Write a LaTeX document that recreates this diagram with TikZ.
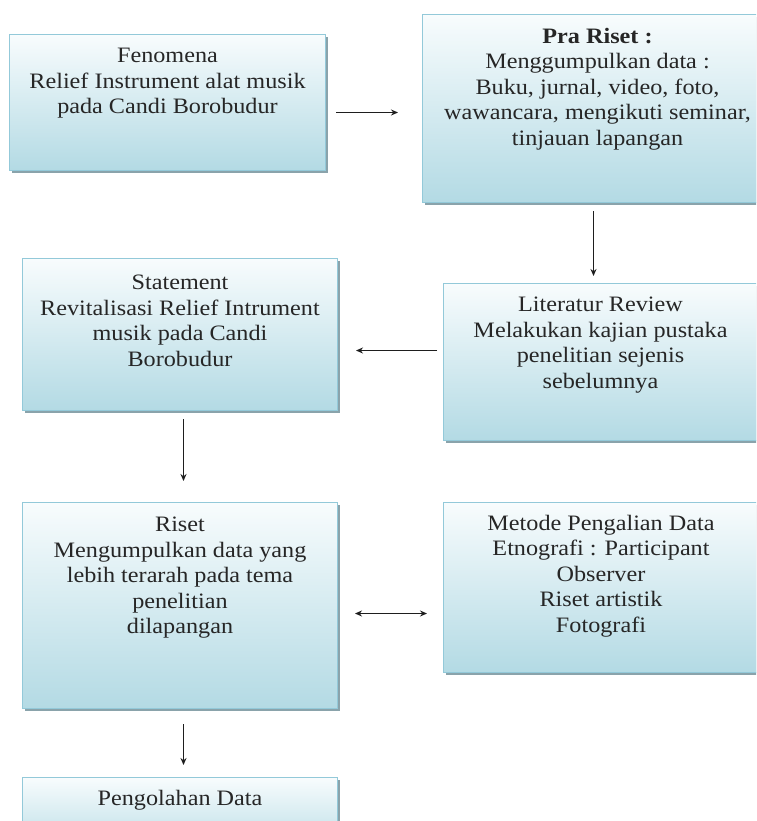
\documentclass[tikz,border=0pt]{standalone}
\usepackage{fontspec}
\setmainfont{Liberation Serif}[FakeStretch=1.1]
\usetikzlibrary{arrows.meta}
\definecolor{boxtop}{HTML}{F8FCFD}
\definecolor{boxbot}{HTML}{B3DAE4}
\definecolor{boxline}{HTML}{93C9D9}
\definecolor{shadowc}{HTML}{8AA3AB}
\definecolor{txtc}{HTML}{262626}
\definecolor{arrc}{HTML}{1E1E1E}
\tikzset{
  flowbox/.style={rectangle, draw=boxline, line width=1pt, top color=boxtop, bottom color=boxbot, inner sep=0pt, anchor=north west},
  shadowbox/.style={rectangle, fill=shadowc, inner sep=0pt, anchor=north west},
  boxtext/.style={anchor=north, inner sep=0pt, align=center, text=txtc, font=\fontsize{22}{25.5}\selectfont},
  arr/.style={draw=arrc, line width=1.1pt, -{Stealth[length=7pt,width=6pt]}},
  dblarr/.style={draw=arrc, line width=1.1pt, {Stealth[length=7pt,width=6pt]}-{Stealth[length=7pt,width=6pt]}}
}
\begin{document}
\begin{tikzpicture}[x=1pt,y=-1pt]
\useasboundingbox (0,0) rectangle (756,821);
\clip (0,0) rectangle (756,821);
% shadows
\node[shadowbox, minimum width=316pt, minimum height=136pt] (fenS) at (12,37) {};
\node[shadowbox, minimum width=350pt, minimum height=188pt] (praS) at (425,17) {};
\node[shadowbox, minimum width=315pt, minimum height=152pt] (stmS) at (25,261) {};
\node[shadowbox, minimum width=314pt, minimum height=157pt] (litS) at (446,286) {};
\node[shadowbox, minimum width=315pt, minimum height=206pt] (risS) at (25,505) {};
\node[shadowbox, minimum width=315pt, minimum height=170pt] (metS) at (446,505) {};
\node[shadowbox, minimum width=315pt, minimum height=80pt] (pengS) at (25,780) {};
% boxes
\node[flowbox, minimum width=316pt, minimum height=136pt] (fen) at (9,34) {};
\node[flowbox, minimum width=350pt, minimum height=188pt] (pra) at (422,14) {};
\node[flowbox, minimum width=315pt, minimum height=152pt] (stm) at (22,258) {};
\node[flowbox, minimum width=314pt, minimum height=157pt] (lit) at (443,283) {};
\node[flowbox, minimum width=315pt, minimum height=206pt] (ris) at (22,502) {};
\node[flowbox, minimum width=315pt, minimum height=170pt] (met) at (443,502) {};
\node[flowbox, minimum width=315pt, minimum height=80pt] (peng) at (22,777) {};
% texts
\node[boxtext] (fenT) at ([yshift=-14pt]fen.north) {Fenomena\\Relief Instrument alat musik\\pada Candi Borobudur};
\node[boxtext] (praT) at ([yshift=-14pt]pra.north) {\textbf{Pra Riset :}\\Menggumpulkan data :\\Buku, jurnal, video, foto,\\wawancara, mengikuti seminar,\\tinjauan lapangan};
\node[boxtext] (stmT) at ([yshift=-17pt]stm.north) {Statement\\Revitalisasi Relief Intrument\\musik pada Candi\\Borobudur};
\node[boxtext] (litT) at ([yshift=-14pt]lit.north) {Literatur Review\\Melakukan kajian pustaka\\penelitian sejenis\\sebelumnya};
\node[boxtext] (risT) at ([yshift=-15pt]ris.north) {Riset\\Mengumpulkan data yang\\lebih terarah pada tema\\penelitian\\dilapangan};
\node[boxtext] (metT) at ([yshift=-13pt]met.north) {Metode Pengalian Data\\Etnografi : Participant\\Observer\\Riset artistik\\Fotografi};
\node[boxtext] (pengT) at ([yshift=-13pt]peng.north) {Pengolahan Data};
% connectors
\draw[arr] ([shift={(10,10)}]fen.east) -- ([shift={(-24,4)}]pra.west);
\draw[arr] ([shift={(-4,8)}]pra.south) -- ([shift={(-7,-7)}]lit.north);
\draw[arr] ([shift={(-6,-11.5)}]lit.west) -- ([shift={(18,16)}]stm.east);
\draw[arr] ([shift={(3.5,8)}]stm.south) -- ([shift={(3.5,-21)}]ris.north);
\draw[dblarr] ([shift={(17,8)}]ris.east) -- ([shift={(-16,26)}]met.west);
\draw[arr] ([shift={(3.5,15)}]ris.south) -- ([shift={(3.5,-12)}]peng.north);
\end{tikzpicture}
\end{document}
